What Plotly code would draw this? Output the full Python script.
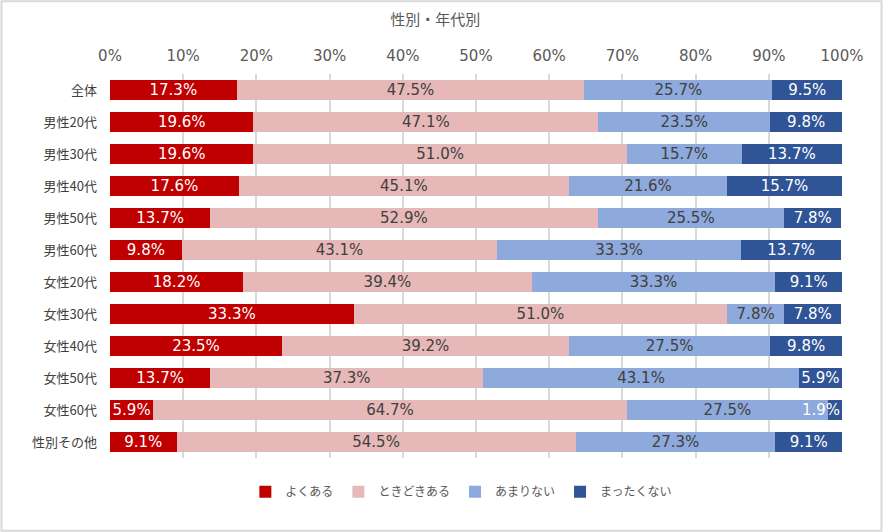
import plotly.graph_objects as go

categories = ["全体", "男性20代", "男性30代", "男性40代", "男性50代", "男性60代",
              "女性20代", "女性30代", "女性40代", "女性50代", "女性60代", "性別その他"]

yoku_aru = [17.3, 19.6, 19.6, 17.6, 13.7, 9.8, 18.2, 33.3, 23.5, 13.7, 5.9, 9.1]
tokidoki_aru = [47.5, 47.1, 51.0, 45.1, 52.9, 43.1, 39.4, 51.0, 39.2, 37.3, 64.7, 54.5]
amari_nai = [25.7, 23.5, 15.7, 21.6, 25.5, 33.3, 33.3, 7.8, 27.5, 43.1, 27.5, 27.3]
mattaku_nai = [9.5, 9.8, 13.7, 15.7, 7.8, 13.7, 9.1, 7.8, 9.8, 5.9, 1.9, 9.1]

series = [
    ("よくある", yoku_aru, "#C00000", "white"),
    ("ときどきある", tokidoki_aru, "#E6B9B8", "#404040"),
    ("あまりない", amari_nai, "#8EA9DB", "#404040"),
    ("まったくない", mattaku_nai, "#2F5597", "white"),
]

jp_font = "Noto Sans CJK JP"
num_font = "DejaVu Sans"

fig = go.Figure()
annotations = []
for name, vals, color, txtcolor in series:
    labels = []
    for i, v in enumerate(vals):
        # segments too narrow for their label: label drawn right-aligned at the bar end
        if v < 3:
            labels.append("")
            row_total = yoku_aru[i] + tokidoki_aru[i] + amari_nai[i] + mattaku_nai[i]
            annotations.append(dict(x=min(row_total, 100), y=i, xref="x", yref="y",
                                    text=f"{v:.1f}%", showarrow=False, xanchor="right",
                                    yanchor="middle",
                                    font=dict(color=txtcolor, size=15, family=num_font)))
        else:
            labels.append(f"{v:.1f}%")
    fig.add_trace(go.Bar(
        y=categories,
        x=vals,
        name=name,
        orientation="h",
        marker=dict(color=color, line=dict(width=0)),
        text=labels,
        textposition="inside",
        insidetextanchor="middle",
        textangle=0,
        textfont=dict(color=txtcolor, size=15, family=num_font),
        constraintext="none",
    ))

fig.update_layout(
    barmode="stack",
    width=883,
    height=532,
    margin=dict(l=110, r=41, t=74, b=74),
    paper_bgcolor="white",
    plot_bgcolor="white",
    bargap=0.37,
    font=dict(family=jp_font, color="#595959", size=13),
    uniformtext=dict(minsize=15, mode="show"),
    title=dict(text="性別・年代別", x=0.493, xanchor="center", y=0.962, yanchor="middle",
               font=dict(size=15, color="#595959", family=jp_font)),
    legend=dict(orientation="h", x=0.48, xanchor="center", y=-0.05, yanchor="top",
                font=dict(size=12, color="#595959"), traceorder="normal"),
    xaxis=dict(
        side="top",
        range=[0, 100],
        dtick=10,
        ticksuffix="%",
        showgrid=True,
        gridcolor="#d9d9d9",
        gridwidth=1.5,
        zeroline=False,
        tickfont=dict(size=15, color="#595959", family=num_font),
        ticklabelstandoff=9,
        fixedrange=True,
    ),
    yaxis=dict(
        autorange="reversed",
        tickfont=dict(size=13, color="#404040"),
        ticklabelstandoff=12,
        showgrid=False,
    ),
    shapes=[dict(type="rect", xref="paper", yref="paper",
                 x0=-110 / 732 + 0.002, x1=1 + 41 / 732 - 0.002,
                 y0=-74 / 384 + 0.003, y1=1 + 74 / 384 - 0.003,
                 line=dict(color="#d9d9d9", width=2), layer="below")],
)
for a in annotations:
    fig.add_annotation(**a)

fig.write_html("out.html", config={"displayModeBar": False},
               post_script="document.body.style.margin='0';")
